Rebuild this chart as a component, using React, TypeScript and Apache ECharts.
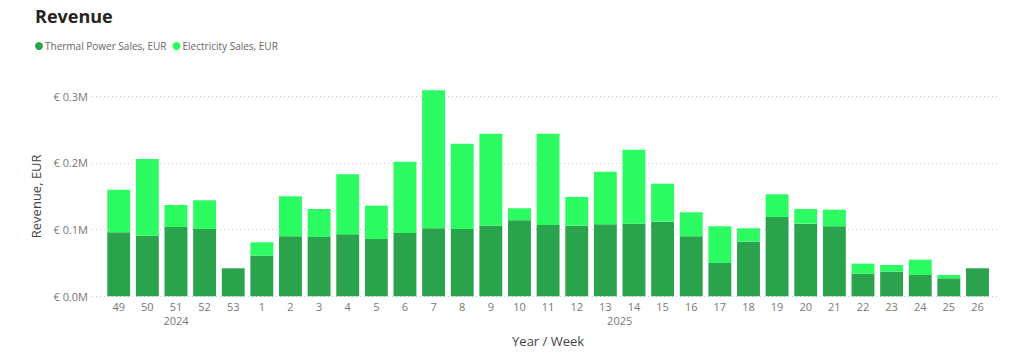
import React, { useEffect, useRef } from "react";
import * as echarts from "echarts";

const weeks = ["49", "50", "51", "52", "53", "1", "2", "3", "4", "5", "6", "7", "8", "9", "10", "11", "12", "13", "14", "15", "16", "17", "18", "19", "20", "21", "22", "23", "24", "25", "26"];
const weekYears = ["2024", "2024", "2024", "2024", "2024", "2025", "2025", "2025", "2025", "2025", "2025", "2025", "2025", "2025", "2025", "2025", "2025", "2025", "2025", "2025", "2025", "2025", "2025", "2025", "2025", "2025", "2025", "2025", "2025", "2025", "2025"];
const thermalSales = [96000, 91000, 104000, 101000, 42000, 61000, 90000, 89000, 93000, 86000, 95000, 102000, 101000, 106000, 114000, 107000, 106000, 108000, 109000, 112000, 90000, 50000, 82000, 119000, 109000, 105000, 34000, 37000, 32000, 27000, 42000];
const electricitySales = [64000, 115000, 33000, 43000, 0, 20000, 60000, 42000, 90000, 50000, 107000, 207000, 128000, 138000, 18000, 137000, 43000, 79000, 111000, 57000, 36000, 55000, 20000, 34000, 22000, 25000, 15000, 10000, 23000, 5000, 0];
const yTicks = [0, 100000, 200000, 300000];

const FONT = "'Open Sans', 'Noto Sans', sans-serif";
const DARK = "#2ba24c";
const BRIGHT = "#2cfb62";

export default function App() {
  const ref = useRef<HTMLDivElement>(null);
  useEffect(() => {
    document.body.style.margin = "0";
    if (!ref.current) return;
    const chart = echarts.init(ref.current, null, { renderer: "svg" });
    const yMax = yTicks[yTicks.length - 1];
    const yInterval = yTicks[1] - yTicks[0];
    chart.setOption({
      animation: false,
      textStyle: { fontFamily: FONT },
      title: {
        text: "Revenue",
        left: 30,
        top: 2,
        textStyle: { fontSize: 18, fontWeight: "bold", color: "#252423", fontFamily: FONT },
      },
      legend: {
        left: 30,
        top: 36,
        icon: "circle",
        itemWidth: 8,
        itemHeight: 8,
        itemGap: 6,
        textStyle: { fontSize: 10, color: "#666666", fontFamily: FONT, padding: [0, 0, 0, -3] },
        data: ["Thermal Power Sales, EUR", "Electricity Sales, EUR"],
      },
      grid: [
        { left: 92, right: 24, top: 96.3, bottom: 56.7 },
        { left: 104.4, right: 32.2, top: 96.3, bottom: 56.7 },
      ],
      xAxis: [
        { type: "category", gridIndex: 0, data: weeks, show: false },
        {
          type: "category",
          gridIndex: 1,
          data: weeks,
          axisLine: { show: false },
          axisTick: { show: false },
          axisLabel: { fontSize: 11, color: "#777777", margin: 5, fontFamily: FONT, interval: 0 },
          name: "Year / Week",
          nameLocation: "middle",
          nameGap: 38,
          nameTextStyle: { fontSize: 13, color: "#444444", fontFamily: FONT },
        },
      ],
      yAxis: [
        {
          type: "value",
          gridIndex: 0,
          min: 0,
          max: yMax,
          interval: yInterval,
          axisLine: { show: false },
          axisTick: { show: false },
          axisLabel: {
            fontSize: 11,
            color: "#777777",
            margin: 4,
            fontFamily: FONT,
            formatter: (v: number) => "€ " + (v / 1e6).toFixed(1) + "M",
          },
          splitLine: { show: true, lineStyle: { type: [1, 3], color: "#c8c8c8", width: 1 } },
          name: "Revenue, EUR",
          nameLocation: "middle",
          nameGap: 43,
          nameRotate: 90,
          nameTextStyle: { fontSize: 13, color: "#444444", fontFamily: FONT },
        },
        {
          type: "value",
          gridIndex: 1,
          min: 0,
          max: yMax,
          interval: yInterval,
          show: false,
          splitLine: { show: false },
        },
      ],
      series: [
        {
          name: "Thermal Power Sales, EUR",
          type: "bar",
          stack: "rev",
          xAxisIndex: 1,
          yAxisIndex: 1,
          data: thermalSales,
          barCategoryGap: "20%",
          clip: false,
          itemStyle: { color: DARK },
        },
        {
          name: "Electricity Sales, EUR",
          type: "bar",
          stack: "rev",
          xAxisIndex: 1,
          yAxisIndex: 1,
          data: electricitySales,
          barCategoryGap: "20%",
          clip: false,
          itemStyle: { color: BRIGHT },
        },
      ],
    });

    // Year labels centered under each year's group of weeks
    const groups: { year: string; first: number; last: number }[] = [];
    weekYears.forEach((y, i) => {
      const g = groups[groups.length - 1];
      if (g && g.year === y) g.last = i;
      else groups.push({ year: y, first: i, last: i });
    });
    const zeroY = chart.convertToPixel({ yAxisIndex: 1 }, 0) as number;
    const graphic = groups.map((g) => {
      const x1 = chart.convertToPixel({ xAxisIndex: 1 }, g.first) as number;
      const x2 = chart.convertToPixel({ xAxisIndex: 1 }, g.last) as number;
      return {
        type: "text",
        x: (x1 + x2) / 2,
        y: zeroY + 24,
        style: {
          text: g.year,
          fontSize: 11,
          fill: "#777777",
          fontFamily: FONT,
          textAlign: "center",
          textVerticalAlign: "middle",
        },
      };
    });
    chart.setOption({ graphic });

    return () => chart.dispose();
  }, []);
  return <div ref={ref} style={{ width: 1024, height: 353 }} />;
}
